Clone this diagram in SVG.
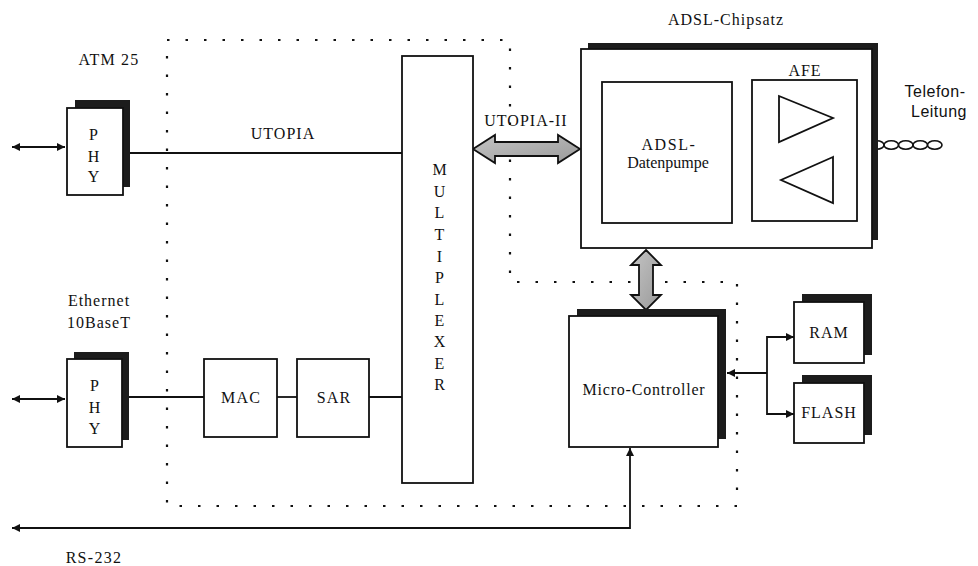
<svg xmlns="http://www.w3.org/2000/svg" width="978" height="566" viewBox="0 0 978 566">
<defs>
<style>
.t{font-family:"Liberation Serif","Times New Roman",serif;font-size:16px;fill:#111;text-anchor:middle;letter-spacing:1px}
.s{font-family:"Liberation Sans",Arial,sans-serif;font-size:16px;fill:#111;text-anchor:middle;letter-spacing:0.5px}
.box{fill:#fff;stroke:#111;stroke-width:1.8}
.sh{fill:#1c1c1c}
.ln{fill:none;stroke:#111;stroke-width:1.8}
.dot{fill:none;stroke:#111;stroke-width:2.2;stroke-dasharray:2.5 16}
.big{fill:url(#g);stroke:#111;stroke-width:1.8;stroke-linejoin:miter}
</style>
<linearGradient id="g" x1="0" y1="0" x2="1" y2="1">
<stop offset="0" stop-color="#c4c4c4"/><stop offset="1" stop-color="#9a9a9a"/>
</linearGradient>
<marker id="a" viewBox="0 0 10 10" refX="10" refY="5" markerWidth="8" markerHeight="8" markerUnits="userSpaceOnUse" orient="auto-start-reverse">
<path d="M0,0 L10,5 L0,10 z" fill="#111"/>
</marker>
</defs>

<g id="boundary">
<path class="dot" d="M167,40 H510 V282 H737 V506 H167 Z"/>
</g>

<g id="connectors">
<line class="ln" x1="12" y1="147" x2="65" y2="147" marker-start="url(#a)" marker-end="url(#a)"/>
<line class="ln" x1="12" y1="399" x2="65" y2="399" marker-start="url(#a)" marker-end="url(#a)"/>
<line class="ln" x1="123" y1="153" x2="402" y2="153"/>
<line class="ln" x1="129" y1="397" x2="204" y2="397"/>
<line class="ln" x1="277" y1="397" x2="297" y2="397"/>
<line class="ln" x1="369" y1="397" x2="402" y2="397"/>
<polygon class="big" points="473,149 495,135 495,142 558,142 558,135 580,149 558,163 558,156 495,156 495,163"/>
<polygon class="big" points="646,250 661,265 653,265 653,295 661,295 646,310 631,295 639,295 639,265 631,265"/>
<line class="ln" x1="767" y1="373" x2="727" y2="373" marker-end="url(#a)"/>
<path class="ln" d="M767,373 V337 H794" marker-end="url(#a)"/>
<path class="ln" d="M767,373 V414 H794" marker-end="url(#a)"/>
<path class="ln" d="M630,448 V528 H12" marker-start="url(#a)" marker-end="url(#a)"/>
<g id="twisted" fill="none" stroke="#111" stroke-width="1.6">
<ellipse cx="862.25" cy="145" rx="7.25" ry="4.3"/>
<ellipse cx="876.75" cy="145" rx="7.25" ry="4.3"/>
<ellipse cx="891.25" cy="145" rx="7.25" ry="4.3"/>
<ellipse cx="905.75" cy="145" rx="7.25" ry="4.3"/>
<ellipse cx="920.25" cy="145" rx="7.25" ry="4.3"/>
<ellipse cx="934.75" cy="145" rx="7.25" ry="4.3"/>
</g>
</g>

<g id="label-atm">
<text class="t" x="109" y="65" style="letter-spacing:1.2px">ATM 25</text>
</g>
<g id="phy1">
<rect class="sh" x="75" y="100" width="55" height="87"/>
<rect class="box" x="67" y="108" width="56" height="87"/>
<text class="t" x="94" y="140">P</text>
<text class="t" x="94" y="162">H</text>
<text class="t" x="94" y="182">Y</text>
</g>
<g id="label-utopia">
<text class="t" x="283" y="139">UTOPIA</text>
</g>
<g id="label-utopia2">
<text class="t" x="526" y="126">UTOPIA-II</text>
</g>

<g id="label-ethernet">
<text class="t" x="99" y="306">Ethernet</text>
<text class="t" x="99" y="328">10BaseT</text>
</g>
<g id="phy2">
<rect class="sh" x="74" y="352" width="55" height="88"/>
<rect class="box" x="67" y="359" width="55" height="88"/>
<text class="t" x="95" y="391">P</text>
<text class="t" x="95" y="413">H</text>
<text class="t" x="95" y="434">Y</text>
</g>
<g id="mac">
<rect class="box" x="204" y="359" width="73" height="78"/>
<text class="t" x="241" y="403" style="letter-spacing:1.2px">MAC</text>
</g>
<g id="sar">
<rect class="box" x="297" y="359" width="72" height="78"/>
<text class="t" x="334" y="403" style="letter-spacing:1.2px">SAR</text>
</g>

<g id="multiplexer">
<rect class="box" x="402" y="56" width="71" height="427"/>
<text class="t" x="440" y="175">M</text>
<text class="t" x="440" y="197">U</text>
<text class="t" x="440" y="218">L</text>
<text class="t" x="440" y="240">T</text>
<text class="t" x="440" y="262">I</text>
<text class="t" x="440" y="283">P</text>
<text class="t" x="440" y="305">L</text>
<text class="t" x="440" y="326">E</text>
<text class="t" x="440" y="347">X</text>
<text class="t" x="440" y="369">E</text>
<text class="t" x="440" y="390">R</text>
</g>

<g id="chipset">
<text class="t" x="726" y="25">ADSL-Chipsatz</text>
<rect class="sh" x="588" y="43" width="290" height="197"/>
<rect class="box" x="581" y="49" width="291" height="199"/>
</g>
<g id="datenpumpe">
<rect class="box" x="602" y="82" width="130" height="141"/>
<text class="t" x="669" y="150" style="letter-spacing:1.6px">ADSL-</text>
<text class="t" x="668" y="168" style="letter-spacing:0px">Datenpumpe</text>
</g>
<g id="afe">
<rect class="box" x="752" y="80" width="105" height="141"/>
<text class="t" x="805" y="76">AFE</text>
<polygon class="ln" points="779,96 833,118 779,142"/>
<polygon class="ln" points="833,157 781,180 833,203"/>
</g>
<g id="label-telefon">
<text class="s" x="935" y="97">Telefon-</text>
<text class="s" x="939" y="117">Leitung</text>
</g>

<g id="microcontroller">
<rect class="sh" x="577" y="309" width="149" height="130"/>
<rect class="box" x="569" y="316" width="149" height="131"/>
<text class="t" x="644" y="395" style="letter-spacing:0.8px">Micro-Controller</text>
</g>
<g id="ram">
<rect class="sh" x="802" y="294" width="70" height="61"/>
<rect class="box" x="794" y="302" width="70" height="61"/>
<text class="t" x="829" y="338">RAM</text>
</g>
<g id="flash">
<rect class="sh" x="802" y="375" width="70" height="60"/>
<rect class="box" x="794" y="383" width="70" height="60"/>
<text class="t" x="829" y="418">FLASH</text>
</g>
<g id="label-rs232">
<text class="t" x="94" y="563" style="letter-spacing:1.3px">RS-232</text>
</g>
</svg>
